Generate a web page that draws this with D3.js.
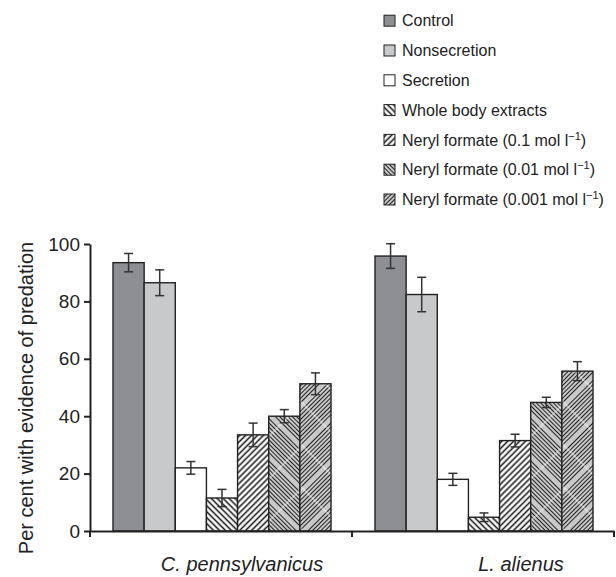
<!DOCTYPE html>
<html>
<head>
<meta charset="utf-8">
<script src="https://cdn.jsdelivr.net/npm/d3@7"></script>
<style>
  body { margin: 0; background: #fff; }
  svg { display: block; font-family: "Liberation Sans", Arial, Helvetica, sans-serif; }
</style>
</head>
<body>
<div id="chart"></div>
<script>
const groups = ["C. pennsylvanicus", "L. alienus"];
const seriesNames = [
    "Control",
    "Nonsecretion",
    "Secretion",
    "Whole body extracts",
    "Neryl formate (0.1 mol l−1)",
    "Neryl formate (0.01 mol l−1)",
    "Neryl formate (0.001 mol l−1)"
];
const cPennMeans = [93.5, 86.5, 22, 11.5, 33.5, 40, 51.3];
const cPennErrors = [3.2, 4.5, 2.2, 3, 4.1, 2.3, 3.8];
const lAlienusMeans = [95.8, 82.4, 18, 4.8, 31.5, 44.8, 55.7];
const lAlienusErrors = [4.3, 6, 2.1, 1.5, 2.2, 1.8, 3.3];
const yTicks = [0, 20, 40, 60, 80, 100];

const seriesFills = ["#8e8f93", "#c8c9cb", "#ffffff", "url(#wbe)", "url(#nf1)", "url(#nf01)", "url(#nf001)"];
const labelShift = [21, 38];

const W = 616, H = 577;
const plotLeft = 90, plotRight = 614, plotTop = 244, plotBottom = 531;
const ink = "#222";

const svg = d3.select("#chart")
    .append("svg")
    .attr("width", W)
    .attr("height", H);

// hatch patterns
const defs = svg.append("defs");

function hatch(id, angle, gap, lw) {
    const p = defs.append("pattern")
        .attr("id", id)
        .attr("patternUnits", "userSpaceOnUse")
        .attr("width", gap)
        .attr("height", gap)
        .attr("patternTransform", `rotate(${angle})`);
    p.append("rect").attr("width", gap).attr("height", gap).attr("fill", "#fff");
    p.append("line")
        .attr("x1", 0).attr("x2", gap)
        .attr("y1", gap / 2).attr("y2", gap / 2)
        .attr("stroke", ink).attr("stroke-width", lw);
}

function latticeHatch(id, angle, gap, lw, size) {
    const p = defs.append("pattern")
        .attr("id", id)
        .attr("patternUnits", "userSpaceOnUse")
        .attr("width", size)
        .attr("height", size)
        .attr("patternTransform", `rotate(${angle})`);
    p.append("rect").attr("width", size).attr("height", size).attr("fill", "#fff");
    for (let yy = gap / 2; yy < size; yy += gap) {
        p.append("line")
            .attr("x1", 0).attr("x2", size)
            .attr("y1", yy).attr("y2", yy)
            .attr("stroke", ink).attr("stroke-width", lw);
    }
    // faint white crossing lines
    p.append("line")
        .attr("x1", size / 2).attr("x2", size / 2)
        .attr("y1", 0).attr("y2", size)
        .attr("stroke", "#fff").attr("stroke-width", 0.9).attr("stroke-opacity", 0.85);
    p.append("line")
        .attr("x1", 0).attr("x2", size)
        .attr("y1", size / 2 + gap / 2).attr("y2", size / 2 + gap / 2)
        .attr("stroke", "#fff").attr("stroke-width", 0.9).attr("stroke-opacity", 0.85);
}

hatch("wbe", 45, 4.2, 1.6);
hatch("nf1", -45, 4.2, 1.6);
latticeHatch("nf01", 45, 3, 1.5, 30);
latticeHatch("nf001", -45, 3, 1.5, 30);

// scales
const x0 = d3.scaleBand()
    .domain(groups)
    .range([plotLeft, plotRight]);

const x1 = d3.scaleBand()
    .domain(seriesNames)
    .range([23, x0.bandwidth() - 21]);

const y = d3.scaleLinear()
    .domain([0, 100])
    .range([plotBottom, plotTop]);

const data = groups.map((g, gi) => {
    const means = gi === 0 ? cPennMeans : lAlienusMeans;
    const errs = gi === 0 ? cPennErrors : lAlienusErrors;
    return seriesNames.map((s, si) => ({ group: g, series: s, value: means[si], err: errs[si], fill: seriesFills[si] }));
});

// bars
const groupG = svg.selectAll(".group")
    .data(data)
    .enter().append("g")
    .attr("class", "group")
    .attr("transform", (d, i) => `translate(${x0(groups[i])},0)`);

groupG.selectAll(".bar")
    .data(d => d)
    .enter().append("rect")
    .attr("class", "bar")
    .attr("x", d => x1(d.series))
    .attr("y", d => y(d.value))
    .attr("width", x1.bandwidth())
    .attr("height", d => y(0) - y(d.value))
    .attr("fill", d => d.fill)
    .attr("stroke", ink)
    .attr("stroke-width", 1.4);

// error bars
const eb = groupG.selectAll(".err")
    .data(d => d)
    .enter().append("g")
    .attr("class", "err")
    .attr("stroke", "#333")
    .attr("stroke-width", 1.5);

eb.append("line")
    .attr("x1", d => x1(d.series) + x1.bandwidth() / 2)
    .attr("x2", d => x1(d.series) + x1.bandwidth() / 2)
    .attr("y1", d => y(d.value + d.err))
    .attr("y2", d => y(d.value - d.err));

[1, -1].forEach(sign => {
    eb.append("line")
        .attr("x1", d => x1(d.series) + x1.bandwidth() / 2 - 4.5)
        .attr("x2", d => x1(d.series) + x1.bandwidth() / 2 + 4.5)
        .attr("y1", d => y(d.value + sign * d.err))
        .attr("y2", d => y(d.value + sign * d.err));
});

// y axis
const yAxis = svg.append("g")
    .attr("transform", `translate(${plotLeft},0)`)
    .call(d3.axisLeft(y).tickValues(yTicks).tickSize(6).tickSizeOuter(0).tickPadding(4));

yAxis.selectAll("path, line").attr("stroke", ink).attr("stroke-width", 2);
yAxis.selectAll("text")
    .attr("font-size", 19)
    .attr("font-family", "Liberation Sans, Arial, sans-serif")
    .attr("fill", ink);

// x axis
const xAxis = svg.append("g")
    .attr("transform", `translate(0,${plotBottom})`)
    .call(d3.axisBottom(x0).tickSize(0).tickSizeOuter(0).tickFormat(""));

xAxis.select(".domain").attr("stroke", ink).attr("stroke-width", 2);

const bounds = groups.map(g => x0(g)).concat([x0.range()[1]]);
xAxis.selectAll(".bound")
    .data(bounds)
    .enter().append("line")
    .attr("class", "bound")
    .attr("x1", d => d).attr("x2", d => d)
    .attr("y1", 0).attr("y2", 6)
    .attr("stroke", ink).attr("stroke-width", 2);

svg.selectAll(".cat")
    .data(groups)
    .enter().append("text")
    .attr("class", "cat")
    .attr("x", (d, i) => x0(d) + x0.bandwidth() / 2 + labelShift[i])
    .attr("y", 571)
    .attr("text-anchor", "middle")
    .attr("font-size", 20)
    .attr("font-style", "italic")
    .attr("fill", ink)
    .text(d => d);

// y title
svg.append("text")
    .attr("transform", "translate(33,398) rotate(-90)")
    .attr("text-anchor", "middle")
    .attr("font-size", 20)
    .attr("fill", ink)
    .text("Per cent with evidence of predation");

// legend
const legend = svg.selectAll(".legend")
    .data(seriesNames)
    .enter().append("g")
    .attr("class", "legend")
    .attr("transform", (d, i) => `translate(384,${20.7 + i * 29.8})`);

legend.append("rect")
    .attr("x", 0)
    .attr("y", -5.5)
    .attr("width", 11)
    .attr("height", 11)
    .attr("fill", (d, i) => seriesFills[i])
    .attr("stroke", ink)
    .attr("stroke-width", 1);

legend.each(function(d) {
    const t = d3.select(this).append("text")
        .attr("x", 18)
        .attr("y", 5.7)
        .attr("font-size", 16)
        .attr("fill", ink);
    const m = d.match(/^(.*mol l)(−1)(\))$/);
    if (m) {
        t.append("tspan").text(m[1]);
        t.append("tspan").attr("dy", -6).attr("font-size", 11).text(m[2]);
        t.append("tspan").attr("dy", 6).text(m[3]);
    } else {
        t.text(d);
    }
});
</script>
</body>
</html>
